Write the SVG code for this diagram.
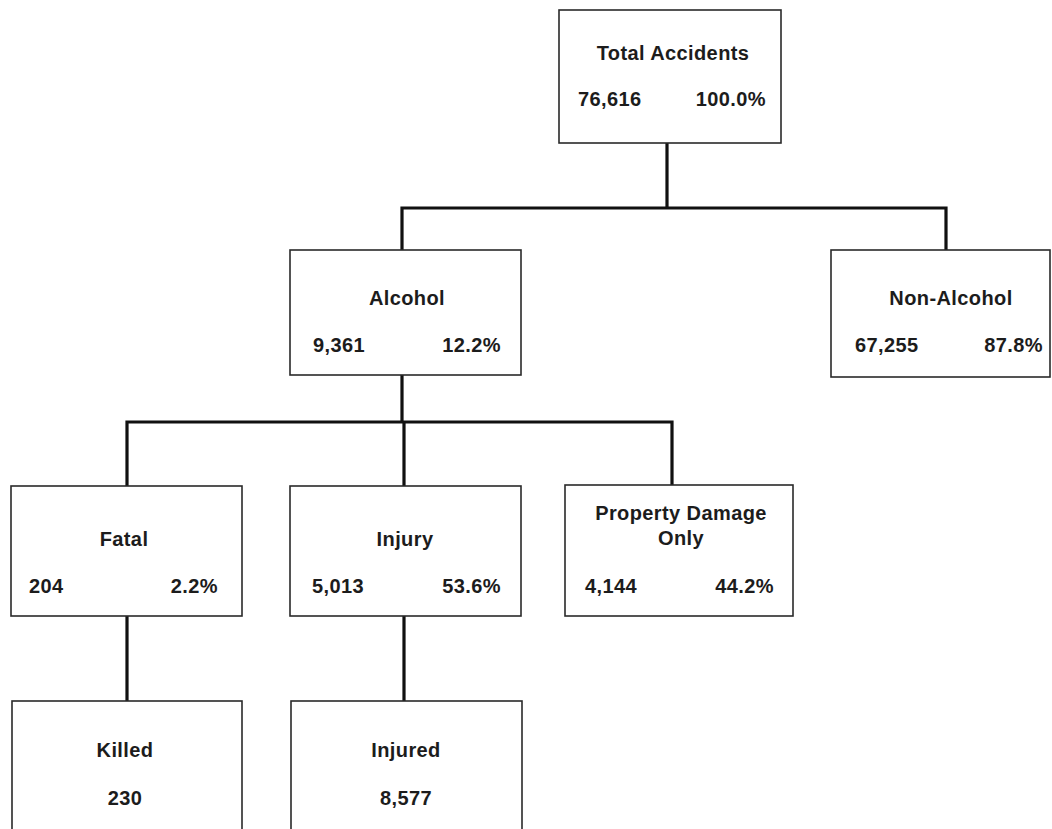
<svg xmlns="http://www.w3.org/2000/svg" width="1052" height="829" viewBox="0 0 1052 829">
<style>
.box{fill:#fff;stroke:#2a2a2a;stroke-width:1.6}
.con{fill:none;stroke:#111;stroke-width:3.2}
text{font-family:"Liberation Sans",Arial,sans-serif;font-weight:bold;font-size:20px;letter-spacing:0.4px;fill:#1c1c1c}
.m{text-anchor:middle}
.e{text-anchor:end}
</style>
<rect width="1052" height="829" fill="#fff"/>
<g id="connectors">
<path class="con" d="M667 143V208M402 208H946M402 206.5V250M946 206.5V250"/>
<path class="con" d="M402 375V422M127 422H672M127 420.5V486M404 420.5V486M672 420.5V486"/>
<path class="con" d="M127 616V701M404 616V701"/>
</g>
<g id="total">
<rect class="box" x="559" y="10" width="222" height="133"/>
<text class="m" x="673" y="60">Total Accidents</text>
<text x="578" y="106">76,616</text>
<text class="e" x="766" y="106">100.0%</text>
</g>
<g id="alcohol">
<rect class="box" x="290" y="250" width="231" height="125"/>
<text class="m" x="407" y="305">Alcohol</text>
<text x="313" y="352">9,361</text>
<text class="e" x="501" y="352">12.2%</text>
</g>
<g id="nonalcohol">
<rect class="box" x="831" y="250" width="219" height="127"/>
<text class="m" x="951" y="305">Non-Alcohol</text>
<text x="855" y="352">67,255</text>
<text class="e" x="1043" y="352">87.8%</text>
</g>
<g id="fatal">
<rect class="box" x="11" y="486" width="231" height="130"/>
<text class="m" x="124" y="546">Fatal</text>
<text x="29" y="593">204</text>
<text class="e" x="218" y="593">2.2%</text>
</g>
<g id="injury">
<rect class="box" x="290" y="486" width="231" height="130"/>
<text class="m" x="405" y="546">Injury</text>
<text x="312" y="593">5,013</text>
<text class="e" x="501" y="593">53.6%</text>
</g>
<g id="property">
<rect class="box" x="565" y="485" width="228" height="131"/>
<text class="m" x="681" y="520">Property Damage</text>
<text class="m" x="681" y="545">Only</text>
<text x="585" y="593">4,144</text>
<text class="e" x="774" y="593">44.2%</text>
</g>
<g id="killed">
<rect class="box" x="12" y="701" width="230" height="140"/>
<text class="m" x="125" y="757">Killed</text>
<text class="m" x="125" y="805">230</text>
</g>
<g id="injured">
<rect class="box" x="291" y="701" width="231" height="140"/>
<text class="m" x="406" y="757">Injured</text>
<text class="m" x="406" y="805">8,577</text>
</g>
</svg>
